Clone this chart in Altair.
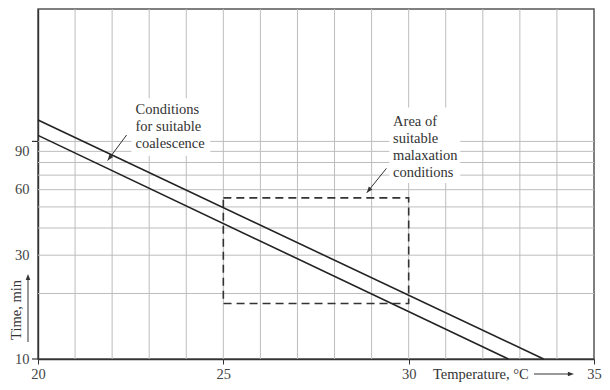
import altair as alt
import pandas as pd

# ---- data ----
temp_ticks = [20, 25, 30, 35]
time_ticks = [10, 30, 60, 90]
v_grid = [21, 22, 23, 24, 25, 26, 27, 28, 29, 30, 31, 32, 33, 34]
h_grid = [20, 30, 40, 50, 60, 70, 80, 90, 100]
y_tick_marks = [10, 100]

line_names = ["upper", "upper", "lower", "lower"]
line_temp = [20, 33.64, 20, 32.69]
line_time = [125.3, 10, 106.6, 10]

box_temp = [25, 30]
box_time = [18, 55]

label_text = ["Conditions\nfor suitable\ncoalescence",
              "Area of\nsuitable\nmalaxation\nconditions"]
label_temp = [22.63, 29.58]
label_time = [149.7, 132.2]
mask_temp1 = [22.52, 29.48]
mask_temp2 = [24.65, 31.39]
mask_time1 = [86.0, 64.4]
mask_time2 = [158.0, 143.0]
arrow_temp1 = [22.39, 29.40]
arrow_time1 = [107.0, 75.2]
arrow_temp2 = [21.88, 28.87]
arrow_time2 = [81.7, 58.1]
arrow_angle = [216, 219]

FONT = "Liberation Serif"
FS = 14.5
INK = "#333333"

xscale = alt.Scale(domain=[20, 35], nice=False, zero=False)
yscale = alt.Scale(type="log", domain=[10, 406], nice=False)
xaxis = alt.Axis(values=temp_ticks, title=None, grid=False, tickSize=5,
                 tickColor=INK, domainColor=INK, domainWidth=1.4,
                 labelFont=FONT, labelFontSize=FS, labelColor="#444",
                 labelPadding=3, labelFlush=False, format="d")
yaxis = alt.Axis(values=time_ticks, title=None, grid=False, ticks=False,
                 domainColor=INK, domainWidth=1.4, labelFont=FONT,
                 labelFontSize=FS, labelColor="#444", labelPadding=9,
                 format="d")


def X(f):
    return alt.X(f, type="quantitative", scale=xscale, axis=xaxis)


def Y(f):
    return alt.Y(f, type="quantitative", scale=yscale, axis=yaxis)


vgrid_df = pd.DataFrame({"T": v_grid})
hgrid_df = pd.DataFrame({"t": h_grid})
ytick_df = pd.DataFrame({"t": y_tick_marks})
lines_df = pd.DataFrame({"line": line_names, "T": line_temp, "t": line_time})
box_df = pd.DataFrame({"T1": [box_temp[0]], "T2": [box_temp[1]],
                       "t1": [box_time[0]], "t2": [box_time[1]]})
ann_df = pd.DataFrame({
    "label": label_text, "T": label_temp, "t": label_time,
    "mT1": mask_temp1, "mT2": mask_temp2, "mt1": mask_time1, "mt2": mask_time2,
    "aT1": arrow_temp1, "at1": arrow_time1, "aT2": arrow_temp2, "at2": arrow_time2,
    "ang": arrow_angle,
})
one = pd.DataFrame({"k": [0]})

ARROW = "M0,0L-0.38,1L0.38,1Z"

vgrid = alt.Chart(vgrid_df).mark_rule(color="#bdbdbd", strokeWidth=1).encode(x=X("T"))
hgrid = alt.Chart(hgrid_df).mark_rule(color="#bdbdbd", strokeWidth=1).encode(y=Y("t"))

masks = alt.Chart(ann_df).mark_rect(color="white").encode(
    x=X("mT1"), x2="mT2", y=Y("mt1"), y2="mt2")

yticks = alt.Chart(ytick_df).mark_rule(color=INK, strokeWidth=1.2).encode(
    y=Y("t"), x=alt.value(-6), x2=alt.value(0))

box = alt.Chart(box_df).mark_rect(fillOpacity=0, fill="white", stroke=INK,
                                  strokeWidth=1.6, strokeDash=[8, 5]).encode(
    x=X("T1"), x2="T2", y=Y("t1"), y2="t2")

lines = alt.Chart(lines_df).mark_line(color="#222222", strokeWidth=1.6).encode(
    x=X("T"), y=Y("t"), detail="line:N")

arrows = alt.Chart(ann_df).mark_rule(color=INK, strokeWidth=1).encode(
    x=X("aT1"), y=Y("at1"), x2="aT2", y2="at2")
heads = alt.Chart(ann_df).mark_point(shape=ARROW, filled=True, size=150,
                                     color=INK, opacity=1).encode(
    x=X("aT2"), y=Y("at2"), angle=alt.Angle("ang:Q", scale=None))

labels = alt.Chart(ann_df).mark_text(lineBreak="\n", align="left", baseline="top",
                                     lineHeight=17, font=FONT, fontSize=FS,
                                     color=INK).encode(
    x=X("T"), y=Y("t"), text="label:N")

# axis titles with arrows
xtitle = alt.Chart(one).mark_text(text="Temperature, °C", align="left",
                                  baseline="middle", font=FONT, fontSize=FS,
                                  color=INK).encode(x=alt.value(395), y=alt.value(366))
xarrow = alt.Chart(one).mark_rule(color=INK, strokeWidth=1).encode(
    x=alt.value(496), x2=alt.value(530), y=alt.value(365))
xhead = alt.Chart(one).mark_point(shape=ARROW, filled=True, size=150, color=INK,
                                  opacity=1, angle=90).encode(
    x=alt.value(536), y=alt.value(365))
ytitle = alt.Chart(one).mark_text(text="Time, min", angle=270, align="center",
                                  baseline="middle", font=FONT, fontSize=FS,
                                  color=INK).encode(x=alt.value(-21), y=alt.value(301))
yarrow = alt.Chart(one).mark_rule(color=INK, strokeWidth=1).encode(
    x=alt.value(-10), y=alt.value(333), y2=alt.value(271))
yhead = alt.Chart(one).mark_point(shape=ARROW, filled=True, size=150, color=INK,
                                  opacity=1, angle=0).encode(
    x=alt.value(-10), y=alt.value(265))

chart = alt.layer(
    vgrid, hgrid, masks, yticks, box, lines, arrows, heads, labels,
    xtitle, xarrow, xhead, ytitle, yarrow, yhead,
).properties(
    width=556, height=350,
    padding={"left": 30, "top": 1, "right": 8, "bottom": 23},
    autosize=alt.AutoSizeParams(type="none"),
    background="white",
).configure_view(stroke="#555555", strokeWidth=1.5)

chart.save("out.html", embed_options={"renderer": "svg", "actions": False})
